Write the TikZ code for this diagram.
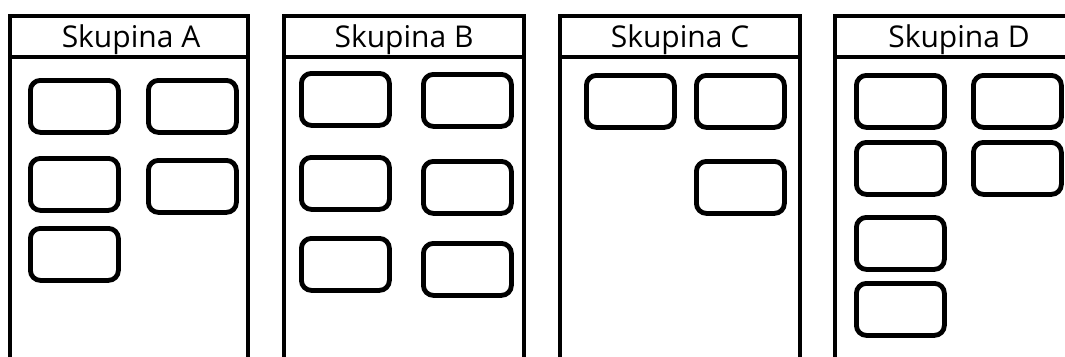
\documentclass[tikz,border=0pt]{standalone}
\usepackage{fontspec}
\setmainfont{Open Sans}
\begin{document}
\begin{tikzpicture}[x=1pt,y=-1pt,
  panel/.style={line width=3.8pt},
  card/.style={draw,line width=4.8pt,rounded corners=10pt,minimum width=88pt,minimum height=52pt,inner sep=0pt,anchor=north west},
  title/.style={font=\fontsize{30}{34}\selectfont,anchor=base,inner sep=0pt}]
\useasboundingbox (0,0) rectangle (1065,356);
\begin{scope}
\clip (0,0) rectangle (1065,356);
% panels
\foreach \l/\r/\t/\n in {10/248/A/pa,284/524/B/pb,560/800/C/pc,835/1090/D/pd}{
  \draw[panel] (\l,360) -- (\l,16) -- (\r,16) -- (\r,360);
  \draw[panel] (\l,57) -- (\r,57);
}
\end{scope}
\node[title] (pa) at (131,47) {Skupina A};
\node[title] (pb) at (404,47) {Skupina B};
\node[title] (pc) at (680,47) {Skupina C};
\node[title] (pd) at (959,47) {Skupina D};
% Skupina A
\node[card] (a1) at (28,78) {};
\node[card] (a2) at (146,78) {};
\node[card] (a3) at (28,156) {};
\node[card] (a4) at (146,158) {};
\node[card] (a5) at (28,226) {};
% Skupina B
\node[card] (b1) at (299,71) {};
\node[card] (b2) at (421,72) {};
\node[card] (b3) at (299,155) {};
\node[card] (b4) at (421,159) {};
\node[card] (b5) at (299,236) {};
\node[card] (b6) at (421,241) {};
% Skupina C
\node[card] (c1) at (584,73) {};
\node[card] (c2) at (694,73) {};
\node[card] (c3) at (694,159) {};
% Skupina D
\node[card] (d1) at (854,73) {};
\node[card] (d2) at (971,73) {};
\node[card] (d3) at (854,140) {};
\node[card] (d4) at (971,140) {};
\node[card] (d5) at (854,215) {};
\node[card] (d6) at (854,281) {};
\end{tikzpicture}
\end{document}
